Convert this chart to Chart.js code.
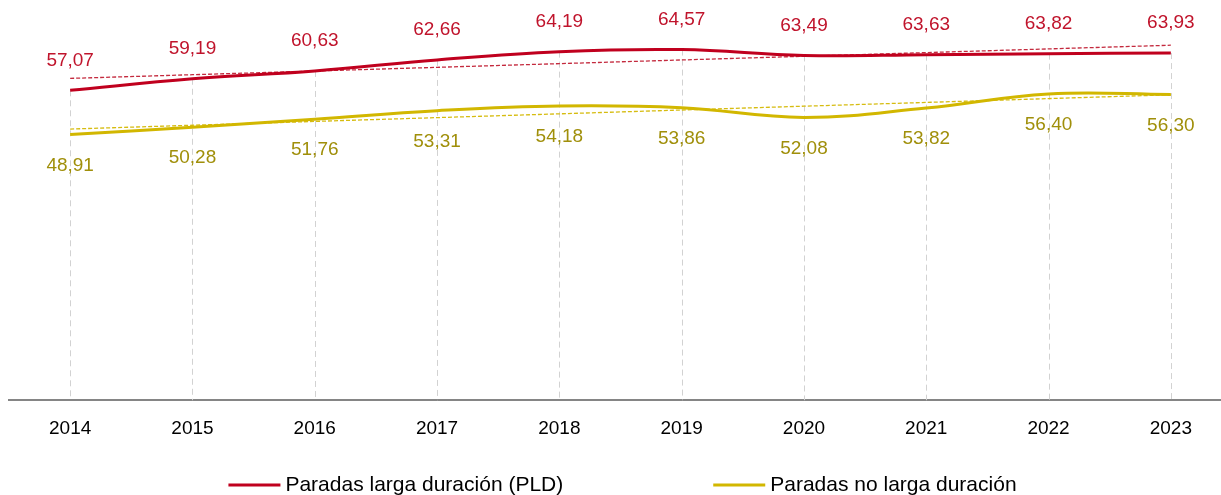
<!DOCTYPE html>
<html>
<head>
<meta charset="utf-8">
<script src="https://cdn.jsdelivr.net/npm/chart.js@4.4.1/dist/chart.umd.min.js"></script>
<style>
  html, body { margin: 0; padding: 0; background: #fff; overflow: hidden; }
  #wrap { width: 1232px; height: 495px; position: relative; }
</style>
</head>
<body>
<div id="wrap"><canvas id="c"></canvas></div>
<script>
// Years on the horizontal axis
const years = ['2014', '2015', '2016', '2017', '2018', '2019', '2020', '2021', '2022', '2023'];
// Long-duration stops (PLD)
const pldValues = [57.07, 59.19, 60.63, 62.66, 64.19, 64.57, 63.49, 63.63, 63.82, 63.93];
// Non long-duration stops
const noPldValues = [48.91, 50.28, 51.76, 53.31, 54.18, 53.86, 52.08, 53.82, 56.40, 56.30];
const seriesNames = ['Paradas larga duración (PLD)', 'Paradas no larga duración'];

const FONT = "'Liberation Sans', Arial, sans-serif";
const RED = '#C0001E';
const RED_TEXT = '#C0142C';
const RED_TREND = '#C42A3E';
const YELLOW = '#D2B700';
const YELLOW_TEXT = '#A08F0A';
const YELLOW_TREND = '#D6BC10';

// Least-squares linear trend evaluated at every category
function linearTrend(vals) {
  const n = vals.length;
  const mx = (n - 1) / 2;
  const my = vals.reduce((a, b) => a + b, 0) / n;
  let sxy = 0, sxx = 0;
  vals.forEach((v, i) => { sxy += (i - mx) * (v - my); sxx += (i - mx) * (i - mx); });
  const slope = sxy / sxx;
  return vals.map((_, i) => my + slope * (i - mx));
}

const fmt = v => v.toFixed(2).replace('.', ',');

// Dashed drop lines from the upper series down to the axis
const dropLines = {
  id: 'dropLines',
  beforeDatasetsDraw(chart) {
    const { ctx, chartArea } = chart;
    const meta = chart.getDatasetMeta(0);
    ctx.save();
    ctx.strokeStyle = '#D2D2D2';
    ctx.lineWidth = 1;
    ctx.setLineDash([6, 4]);
    meta.data.forEach(pt => {
      const x = Math.round(pt.x) + 0.5;
      ctx.beginPath();
      ctx.moveTo(x, pt.y);
      ctx.lineTo(x, chartArea.bottom);
      ctx.stroke();
    });
    ctx.restore();
  }
};

// Value labels: above the PLD line, below the other one
const valueLabels = {
  id: 'valueLabels',
  afterDatasetsDraw(chart) {
    const { ctx } = chart;
    ctx.save();
    ctx.font = '19px ' + FONT;
    ctx.textAlign = 'center';
    ctx.textBaseline = 'middle';
    [[0, -30, RED_TEXT], [1, 31, YELLOW_TEXT]].forEach(([di, dy, color]) => {
      const meta = chart.getDatasetMeta(di);
      const vals = chart.data.datasets[di].data;
      ctx.fillStyle = color;
      meta.data.forEach((pt, i) => {
        ctx.fillText(fmt(vals[i]), pt.x, pt.y + dy);
      });
    });
    ctx.restore();
  }
};

// Legend row under the axis
const bottomLegend = {
  id: 'bottomLegend',
  afterDraw(chart) {
    const { ctx, chartArea } = chart;
    const items = [0, 1].map(i => ({
      text: chart.data.datasets[i].label,
      color: chart.data.datasets[i].borderColor
    }));
    const lineW = 52, gapText = 5, gapItems = 150, y = 485;
    ctx.save();
    ctx.font = '21px ' + FONT;
    ctx.textBaseline = 'middle';
    const widths = items.map(it => lineW + gapText + ctx.measureText(it.text).width);
    const total = widths[0] + gapItems + widths[1];
    let x = (chartArea.left + chartArea.right) / 2 + 2 - total / 2;
    items.forEach((it, i) => {
      ctx.strokeStyle = it.color;
      ctx.lineWidth = 3;
      ctx.beginPath();
      ctx.moveTo(x, y);
      ctx.lineTo(x + lineW, y);
      ctx.stroke();
      ctx.fillStyle = '#000';
      ctx.fillText(it.text, x + lineW + gapText, y);
      x += widths[i] + gapItems;
    });
    ctx.restore();
  }
};

new Chart(document.getElementById('c'), {
  type: 'line',
  data: {
    labels: years,
    datasets: [
      { label: seriesNames[0], data: pldValues, borderColor: RED, borderWidth: 3, tension: 0.4, pointRadius: 0, order: 1 },
      { label: seriesNames[1], data: noPldValues, borderColor: YELLOW, borderWidth: 3, tension: 0.4, pointRadius: 0, order: 2 },
      { label: 'trend-pld', data: linearTrend(pldValues), borderColor: RED_TREND, borderWidth: 1.3, borderDash: [4, 2], tension: 0, pointRadius: 0, order: 3 },
      { label: 'trend-nopld', data: linearTrend(noPldValues), borderColor: YELLOW_TREND, borderWidth: 1.3, borderDash: [4, 2], tension: 0, pointRadius: 0, order: 4 }
    ]
  },
  options: {
    responsive: true,
    maintainAspectRatio: false,
    animation: false,
    events: [],
    layout: { padding: { left: 9, right: 0, top: 0, bottom: 38 } },
    plugins: { legend: { display: false }, tooltip: { enabled: false } },
    scales: {
      x: {
        type: 'category',
        offset: true,
        grid: { display: false, drawTicks: false },
        border: { display: true, color: '#858585', width: 2 },
        ticks: { color: '#000', padding: 17, font: { family: FONT, size: 19 } }
      },
      y: { display: false, min: 0, max: 73.7 }
    }
  },
  plugins: [dropLines, valueLabels, bottomLegend]
});
</script>
</body>
</html>
